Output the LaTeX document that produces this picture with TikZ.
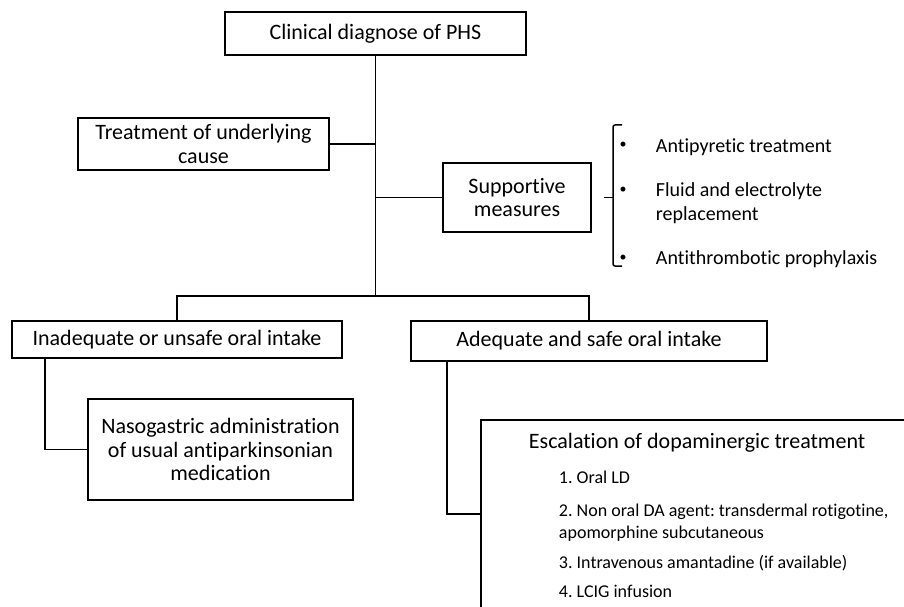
\documentclass[tikz,border=0pt]{standalone}
\usepackage{fontspec}
\setmainfont{Carlito}[Ligatures=NoCommon]
\frenchspacing
\begin{document}
\begin{tikzpicture}[x=1pt,y=-1pt, line width=1.9pt,
  flowbox/.style={draw, rectangle, inner sep=0pt, align=center, font=\fontsize{22}{23.5}\selectfont},
  bultext/.style={anchor=base west, inner sep=0pt, font=\fontsize{20}{22}\selectfont},
  bulmark/.style={inner sep=0pt, font=\fontsize{14}{14}\selectfont},
  escitem/.style={anchor=base west, inner sep=0pt, font=\fontsize{18}{20}\selectfont}]
\useasboundingbox (0,0) rectangle (904,607);
\clip (0,0) rectangle (904,607);
% boxes
\node[flowbox, minimum width=301pt, minimum height=43pt] (top) at (375.5,33.5) {Clinical diagnose of PHS};
\node[flowbox, minimum width=251pt, minimum height=52pt] (treat) at (203.5,144) {Treatment of underlying\\cause};
\node[flowbox, minimum width=148pt, minimum height=69pt] (supp) at (517,197.5) {Supportive\\measures};
\node[flowbox, minimum width=330pt, minimum height=37pt] (inad) at (177,339.5) {Inadequate or unsafe oral intake};
\node[flowbox, minimum width=356pt, minimum height=40pt] (adeq) at (589,341) {Adequate and safe oral intake};
\node[flowbox, minimum width=265pt, minimum height=101pt] (naso) at (220.5,449.5) {Nasogastric administration\\of usual antiparkinsonian\\medication};
\node[draw, rectangle, anchor=north west, minimum width=440pt, minimum height=200pt, inner sep=0pt] (esc) at (480,419) {};
% escalation text
\node[anchor=base west, inner sep=0pt, font=\fontsize{22}{23.5}\selectfont] (esct) at (528,448) {Escalation of dopaminergic treatment};
\node[escitem] (e1) at (558,483) {1. Oral LD};
\node[escitem] (e2) at (558,516) {2. Non oral DA agent: transdermal rotigotine,};
\node[escitem] (e2b) at (558,538) {apomorphine subcutaneous};
\node[escitem] (e3) at (558,568) {3. Intravenous amantadine (if available)};
\node[escitem] (e4) at (558,597) {4. LCIG infusion};
% connectors
\coordinate (trunkbot) at (375.5,296);
\coordinate (escin) at (480,514);
\draw (top.south) -- (trunkbot);
\draw (treat.east) -- (treat.east -| top.south);
\draw (supp.west) -- (supp.west -| top.south);
\draw (inad.north) |- (trunkbot) -| (adeq.north);
\draw ([xshift=-132pt]inad.south) |- (naso.west);
\draw ([xshift=-142pt]adeq.south) |- (escin);
% bracket
\draw[line width=1.5pt, rounded corners=2pt] (622,125) -- (613,125) -- (613,266) -- (622,266);
\draw[line width=1.5pt] (613,197.5) -- (604,197.5);
% bullets
\node[bulmark] (b1) at (623,145) {•};
\node[bulmark] (b2) at (623,190) {•};
\node[bulmark] (b3) at (623,258) {•};
\node[bultext] (t1) at (655,152) {Antipyretic treatment};
\node[bultext] (t2) at (655,196) {Fluid and electrolyte};
\node[bultext] (t2b) at (655,220) {replacement};
\node[bultext] (t3) at (655,264) {Antithrombotic prophylaxis};
\end{tikzpicture}
\end{document}
